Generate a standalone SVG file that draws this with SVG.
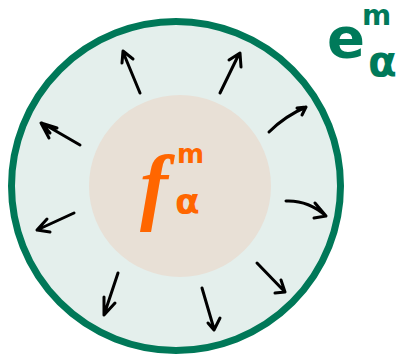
<svg xmlns="http://www.w3.org/2000/svg" width="400" height="359" viewBox="0 0 400 359">
<style>
.arr{fill:none;stroke:#000;stroke-width:3;stroke-linecap:round;stroke-linejoin:round}
.or{fill:#ff6600;font-family:"DejaVu Sans",sans-serif;font-weight:bold}
.gr{fill:#007a5a;font-family:"DejaVu Sans",sans-serif;font-weight:bold}
</style>
<g id="outer"><circle cx="176" cy="186" r="164.5" fill="#e4efec" stroke="#007858" stroke-width="7"/></g>
<g id="inner"><circle cx="180" cy="186" r="91" fill="#e8e0d6"/></g>
<g id="f-label">
<text class="or"><tspan x="140" y="214" font-style="italic" font-size="84" style="font-family:'Liberation Serif',serif">f</tspan><tspan x="177" y="163" font-size="26">m</tspan><tspan x="175" y="214" font-size="36">α</tspan></text>
</g>
<g id="e-label">
<text class="gr"><tspan x="327" y="57" font-size="56">e</tspan><tspan x="362" y="25" font-size="28">m</tspan><tspan x="368" y="76" font-size="42">α</tspan></text>
</g>
<g id="connectors">
<path class="arr" d="M140,93 L123,52 M122,63 L123,51 L133,59"/>
<path class="arr" d="M80,145 L42,123 M49,138 L41,123 L57,128 M44,126 L50,133"/>
<path class="arr" d="M220,93 L239,54 M229,60 L240,53 L241,67"/>
<path class="arr" d="M269,132 Q285,116 306,107 M297,108 L306,107 L302,115"/>
<path class="arr" d="M286,201 Q308,200 326,216 M315,203 L326,216 L314,218"/>
<path class="arr" d="M257,263 L285,292 M281,280 L285,292 L275,293"/>
<path class="arr" d="M202,288 L214,329 M208,323 L214,330 L220,318"/>
<path class="arr" d="M118,273 L104,315 M104,297 L104,315 L115,303"/>
<path class="arr" d="M74,213 L37,230 M47,219 L37,230 L50,232"/>
</g>
</svg>
